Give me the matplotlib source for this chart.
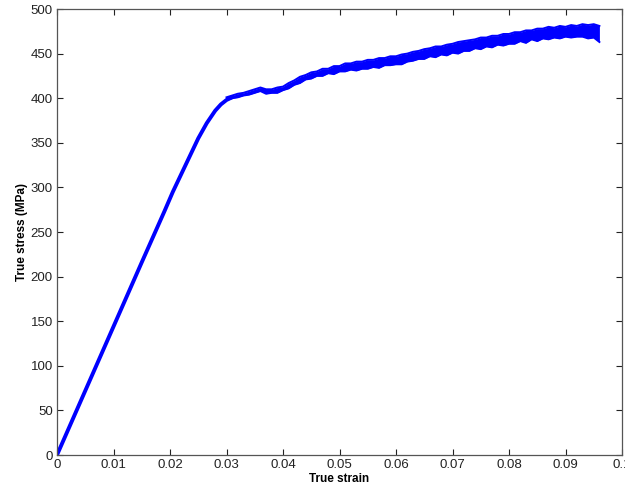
import numpy as np
import matplotlib.pyplot as plt

plt.rcParams['font.family'] = ['Liberation Sans', 'DejaVu Sans']

# elastic part and knee of the curve
strain_load = [0.0, 0.005, 0.010, 0.015, 0.019, 0.0205, 0.022, 0.0235, 0.025,
               0.0265, 0.028, 0.029, 0.030, 0.031]
stress_load = [0, 72, 144, 216, 273, 295, 315, 335, 355, 372, 386, 393, 398, 401]

# noisy plastic part: lower / upper edges of the signal band
strain_band = [0.030, 0.031, 0.032, 0.033, 0.034, 0.035, 0.036, 0.037, 0.038, 0.039,
               0.040, 0.041, 0.042, 0.043, 0.044, 0.045, 0.046, 0.047, 0.048, 0.049,
               0.050, 0.051, 0.052, 0.053, 0.054, 0.055, 0.056, 0.057, 0.058, 0.059,
               0.060, 0.061, 0.062, 0.063, 0.064, 0.065, 0.066, 0.067, 0.068, 0.069,
               0.070, 0.071, 0.072, 0.073, 0.074, 0.075, 0.076, 0.077, 0.078, 0.079,
               0.080, 0.081, 0.082, 0.083, 0.084, 0.085, 0.086, 0.087, 0.088, 0.089,
               0.090, 0.091, 0.092, 0.093, 0.094, 0.095, 0.096]
stress_lower = [398, 400, 401, 403, 404, 406, 408, 405, 406, 406,
                409, 411, 415, 417, 421, 422, 425, 425, 428, 427,
                430, 430, 432, 431, 433, 433, 435, 434, 437, 437,
                438, 438, 441, 442, 444, 444, 447, 446, 449, 448,
                451, 450, 453, 453, 456, 455, 458, 457, 460, 459,
                461, 461, 464, 462, 466, 464, 467, 466, 468, 467,
                469, 468, 469, 469, 467, 468, 463]
stress_upper = [401, 403, 405, 406, 408, 410, 412, 410, 410, 412,
                413, 417, 420, 424, 426, 429, 430, 433, 433, 436,
                436, 439, 439, 441, 441, 443, 443, 445, 445, 447,
                447, 449, 450, 452, 453, 455, 456, 458, 458, 460,
                461, 463, 464, 465, 466, 468, 468, 470, 470, 472,
                472, 474, 474, 476, 476, 478, 478, 480, 479, 481,
                480, 482, 481, 483, 482, 483, 481]

xticks = [0, 0.01, 0.02, 0.03, 0.04, 0.05, 0.06, 0.07, 0.08, 0.09, 0.1]
xticklabels = ['0', '0.01', '0.02', '0.03', '0.04', '0.05', '0.06', '0.07',
               '0.08', '0.09', '0.1']
yticks = [0, 50, 100, 150, 200, 250, 300, 350, 400, 450, 500]

fig = plt.figure(figsize=(6.25, 4.9), dpi=100)
ax = fig.add_axes([57 / 625, 35 / 490, 565 / 625, 446 / 490])

ax.plot(strain_load, stress_load, color='blue', linewidth=2.8, solid_capstyle='round')
ax.fill_between(strain_band, stress_lower, stress_upper, color='blue', linewidth=0)
ax.plot(strain_band, stress_lower, color='blue', linewidth=1.4)
ax.plot(strain_band, stress_upper, color='blue', linewidth=1.4)

ax.set_xlim(0, 0.1)
ax.set_ylim(0, 500)
ax.set_xticks(xticks)
ax.set_xticklabels(xticklabels)
ax.set_yticks(yticks)
ax.tick_params(direction='in', length=4, width=0.8, labelsize=9.5, colors='#222222',
               top=True, right=True, pad=3)
for s in ax.spines.values():
    s.set_color('#555555')
    s.set_linewidth(0.9)

ax.set_xlabel('True strain', fontsize=8.5, fontweight='bold', labelpad=1)
ax.set_ylabel('True stress (MPa)', fontsize=8.5, fontweight='bold', labelpad=2)

fig.savefig('out.png', dpi=100)
